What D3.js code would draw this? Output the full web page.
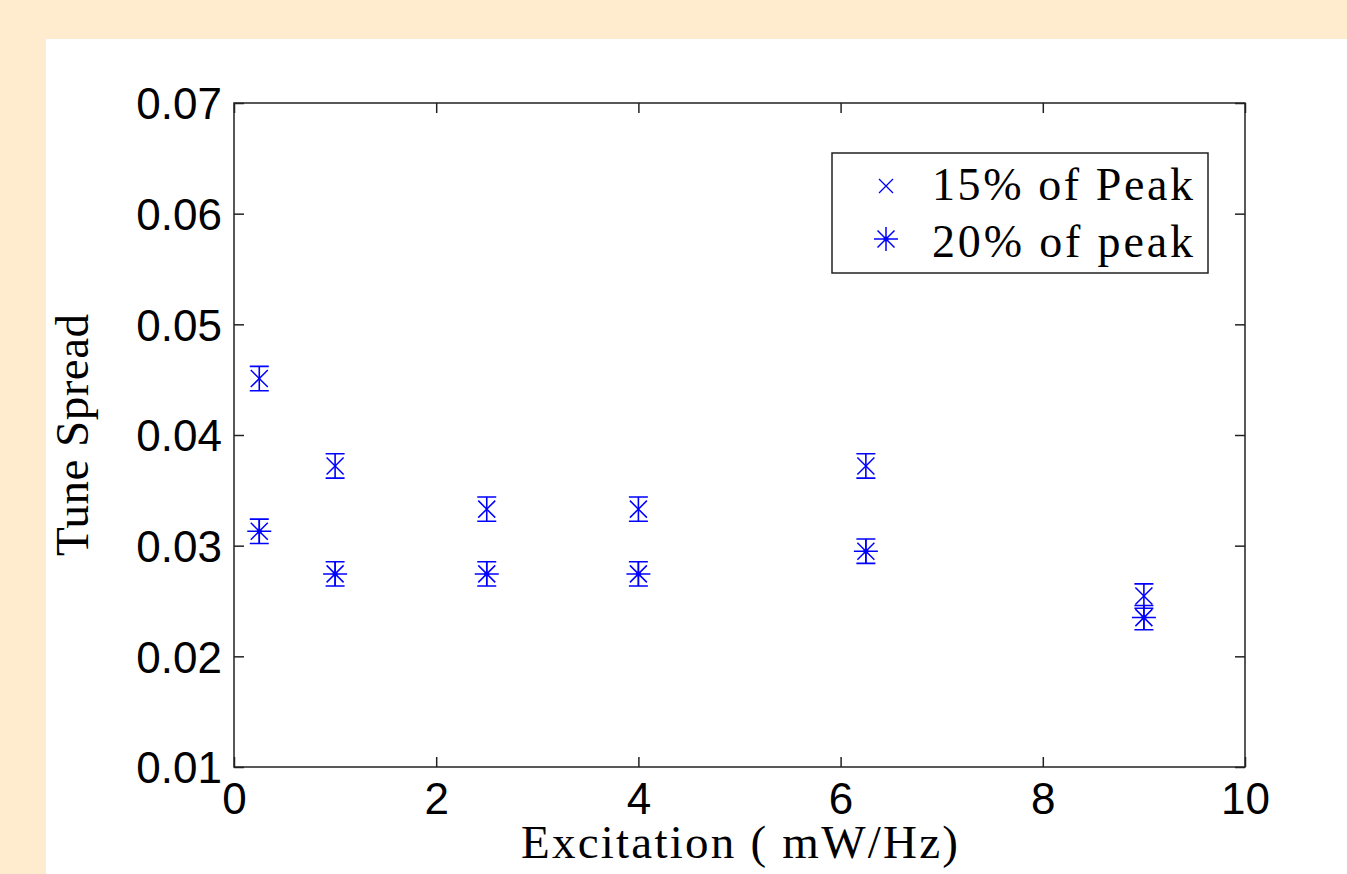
<!doctype html>
<html lang="en">
<head>
  <meta charset="UTF-8" />
  <script src="https://cdn.jsdelivr.net/npm/d3@7"></script>
  <style>
    body { margin: 0; background: #FFEBCD; }
    .tick text { font-family: "Liberation Sans", Arial, sans-serif; font-size: 44px; fill: #000; }
    .lbl { font-family: "Liberation Serif", "Times New Roman", serif; font-size: 47px; fill: #000; }
    .leg { font-family: "Liberation Serif", "Times New Roman", serif; font-size: 46px; fill: #000; }
  </style>
  <title>Tune Spread</title>
</head>
<body>
  <script>
    // excitation values (mW/Hz)
    var excitation = [0.25, 1, 2.5, 4, 6.25, 9];
    // 15% of peak (x markers)
    var spread15 = [0.0451, 0.0372, 0.0333, 0.0333, 0.0372, 0.02545];
    // 20% of peak (asterisks)
    var spread20 = [0.0313, 0.02745, 0.02745, 0.02745, 0.0295, 0.0235];
    var errs = [0.0011, 0.0011, 0.0011, 0.0011, 0.0011, 0.0011];
    var xTicks = [0, 2, 4, 6, 8, 10];
    var yTicks = [0.01, 0.02, 0.03, 0.04, 0.05, 0.06, 0.07];
    var legendLabels = ["15% of Peak", "20% of peak"];

    var W = 1347, H = 874;
    var svg = d3.select("body").append("svg")
      .attr("width", W).attr("height", H)
      .style("display", "block");

    svg.append("rect").attr("x", 0).attr("y", 0).attr("width", W).attr("height", H)
      .attr("fill", "#FFEBCD");
    svg.append("rect").attr("x", 46).attr("y", 39).attr("width", W - 46).attr("height", H - 39)
      .attr("fill", "#fff");

    var pL = 234, pR = 1245, pT = 103, pB = 767;
    var x = d3.scaleLinear().domain([0, 10]).range([pL, pR]);
    var y = d3.scaleLinear().domain([0.01, 0.07]).range([pB, pT]);

    var axisCol = "#222";

    // bottom axis (ticks inward)
    var gx = svg.append("g").attr("transform", "translate(0," + pB + ")")
      .call(d3.axisBottom(x).tickValues(xTicks).tickSize(-10).tickPadding(16).tickFormat(d3.format("d")));
    gx.select(".domain").remove();
    gx.selectAll(".tick text").attr("dy", "0.71em");

    var gy = svg.append("g").attr("transform", "translate(" + pL + ",0)")
      .call(d3.axisLeft(y).tickValues(yTicks).tickSize(-10).tickPadding(12).tickFormat(d3.format(".2f")));
    gy.select(".domain").remove();
    gy.selectAll(".tick text").attr("dy", "0.36em");

    // top and right mirror ticks
    var gt = svg.append("g").attr("transform", "translate(0," + pT + ")")
      .call(d3.axisTop(x).tickValues(xTicks).tickSize(-10).tickFormat(""));
    gt.select(".domain").remove();
    var gr = svg.append("g").attr("transform", "translate(" + pR + ",0)")
      .call(d3.axisRight(y).tickValues(yTicks).tickSize(-10).tickFormat(""));
    gr.select(".domain").remove();

    svg.selectAll(".tick line").attr("stroke", axisCol).attr("stroke-width", 1.5);

    svg.append("rect").attr("x", pL).attr("y", pT)
      .attr("width", pR - pL).attr("height", pB - pT)
      .attr("fill", "none").attr("stroke", axisCol).attr("stroke-width", 1.5);

    // axis labels
    svg.append("text").attr("class", "lbl")
      .attr("x", (pL + pR) / 2).attr("y", 858)
      .attr("text-anchor", "middle")
      .attr("textLength", 437).attr("lengthAdjust", "spacing")
      .text("Excitation ( mW/Hz)");

    svg.append("text").attr("class", "lbl")
      .attr("transform", "translate(88," + (pT + pB) / 2 + ") rotate(-90)")
      .attr("text-anchor", "middle")
      .attr("textLength", 242).attr("lengthAdjust", "spacing")
      .text("Tune Spread");

    var blue = "#0000FF";
    var capW = 9.5;

    function errorBars(vals) {
      var g = svg.append("g").attr("stroke", blue).attr("stroke-width", 1.6).attr("fill", "none");
      excitation.forEach(function (ex, i) {
        var cx = x(ex), y0 = y(vals[i] - errs[i]), y1 = y(vals[i] + errs[i]);
        g.append("path").attr("d",
          "M" + cx + "," + y0 + "V" + y1 +
          "M" + (cx - capW) + "," + y0 + "h" + (2 * capW) +
          "M" + (cx - capW) + "," + y1 + "h" + (2 * capW));
      });
    }

    function crossPath(cx, cy, r) {
      return "M" + (cx - r) + "," + (cy - r) + "L" + (cx + r) + "," + (cy + r) +
        "M" + (cx - r) + "," + (cy + r) + "L" + (cx + r) + "," + (cy - r);
    }
    function starPath(cx, cy) {
      return crossPath(cx, cy, 8.5) +
        "M" + (cx - 12) + "," + cy + "h24" +
        "M" + cx + "," + (cy - 12) + "v24";
    }

    errorBars(spread15);
    errorBars(spread20);

    svg.append("g").attr("stroke", blue).attr("stroke-width", 1.5).attr("fill", "none")
      .selectAll("path").data(spread15).enter().append("path")
      .attr("d", function (d, i) { return crossPath(x(excitation[i]), y(d), 8.5); });

    var stars = svg.append("g");
    stars.selectAll("path").data(spread20).enter().append("path")
      .attr("stroke", blue).attr("stroke-width", 1.5).attr("fill", "none")
      .attr("d", function (d, i) { return starPath(x(excitation[i]), y(d)); });
    stars.selectAll("circle").data(spread20).enter().append("circle")
      .attr("cx", function (d, i) { return x(excitation[i]); })
      .attr("cy", function (d) { return y(d); })
      .attr("r", 2.5).attr("fill", blue);

    // legend
    var lg = svg.append("g");
    lg.append("rect").attr("x", 832).attr("y", 153).attr("width", 376).attr("height", 120)
      .attr("fill", "#fff").attr("stroke", axisCol).attr("stroke-width", 1.5);
    lg.append("path").attr("d", crossPath(886, 186, 7))
      .attr("stroke", blue).attr("stroke-width", 1.3).attr("fill", "none");
    lg.append("path")
      .attr("d", crossPath(886, 239, 8.5) + "M874,239h24M886,227v24")
      .attr("stroke", blue).attr("stroke-width", 1.5).attr("fill", "none");
    lg.append("circle").attr("cx", 886).attr("cy", 239).attr("r", 2.5).attr("fill", blue);
    lg.selectAll("text").data(legendLabels).enter().append("text")
      .attr("class", "leg")
      .attr("x", 932)
      .attr("y", function (d, i) { return 200 + i * 57; })
      .attr("textLength", 261).attr("lengthAdjust", "spacing")
      .text(function (d) { return d; });
  </script>
</body>
</html>
